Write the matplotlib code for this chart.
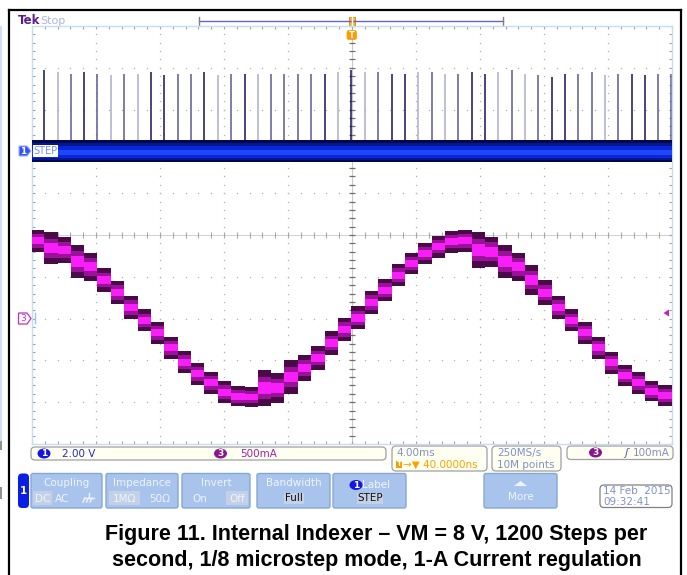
import numpy as np
import matplotlib
matplotlib.use("Agg")
import matplotlib.pyplot as plt
from matplotlib.patches import FancyBboxPatch, Rectangle, Ellipse, Polygon

# CH1 "STEP" input, 2 V/div : rising edge times (ms, trigger = 0) and pulse heights (V)
pulse_ms = [-19.25, -18.39, -17.56, -16.73, -15.92, -15.06, -14.23, -13.39,
            -12.54, -11.73, -10.89, -10.06, -9.23, -8.38, -7.54, -6.71,
            -5.89, -5.06, -4.23, -3.38, -2.54, -1.71, -0.89, -0.04,
            0.81, 1.64, 2.48, 3.31, 4.14, 4.98, 5.79, 6.63,
            7.48, 8.31, 9.14, 9.98, 10.81, 11.64, 12.48, 13.31,
            14.14, 14.98, 15.81, 16.64, 17.48, 18.31, 19.14, 19.94]
pulse_v = [3.88, 3.80, 3.72, 3.80, 3.72, 3.64, 3.72, 3.72, 3.80, 3.64, 3.72, 3.72,
           3.80, 3.64, 3.72, 3.68, 3.72, 3.72, 3.72, 3.72, 3.72, 3.72, 3.80, 3.88,
           3.80, 3.80, 3.72, 3.72, 3.80, 3.80, 3.72, 3.72, 3.80, 3.68, 3.80, 3.88,
           3.72, 3.64, 3.56, 3.68, 3.72, 3.80, 3.64, 3.72, 3.68, 3.64, 3.72, 3.72]
step_noise_v = (-0.51, 0.56)

# CH3 winding current, 500 mA/div : level held between step pulses (A) and ripple half width (A)
current_a = [0.93, 0.84, 0.82, 0.68, 0.62, 0.46, 0.31, 0.13, -0.02, -0.17, -0.35, -0.52,
             -0.66, -0.77, -0.88, -0.93, -0.94, -0.83, -0.83, -0.70, -0.59, -0.47, -0.29, -0.13,
             0.01, 0.19, 0.34, 0.52, 0.66, 0.78, 0.86, 0.92, 0.93, 0.82, 0.80, 0.68,
             0.62, 0.46, 0.31, 0.13, -0.02, -0.17, -0.35, -0.53, -0.68, -0.77, -0.87, -0.92]
ripple_a = [0.13, 0.19, 0.16, 0.20, 0.17, 0.14, 0.14, 0.14, 0.13, 0.13, 0.13, 0.13,
            0.13, 0.13, 0.13, 0.12, 0.12, 0.22, 0.18, 0.20, 0.16, 0.14, 0.14, 0.14,
            0.14, 0.14, 0.13, 0.13, 0.13, 0.13, 0.13, 0.13, 0.13, 0.22, 0.18, 0.20,
            0.17, 0.18, 0.15, 0.14, 0.13, 0.13, 0.13, 0.13, 0.13, 0.13, 0.12, 0.12]

ch1_volts_div = 2.0
ch3_amps_div = 0.5
ch1_pos = 2.0
ch3_pos = -2.0

W, H = 687, 575
fig = plt.figure(figsize=(W / 100, H / 100), dpi=100)
bg = fig.add_axes([0, 0, 1, 1])
bg.set_xlim(0, W)
bg.set_ylim(H, 0)
bg.axis('off')

# scope graticule, px 32..672 x 26..444
gx0, gx1, gy0, gy1 = 32, 672, 26, 444
ax = fig.add_axes([gx0 / W, 1 - gy1 / H, (gx1 - gx0) / W, (gy1 - gy0) / H])
ax.set_xlim(-20, 20)
ax.set_ylim(-5, 5)
ax.set_xticks([])
ax.set_yticks([])
for s in ax.spines.values():
    s.set_color('#c4dcf4')
    s.set_linewidth(1.0)

# overlay for markers drawn over the graticule
ov = fig.add_axes([0, 0, 1, 1])
ov.set_xlim(0, W)
ov.set_ylim(H, 0)
ov.axis('off')
ov.patch.set_alpha(0)

# grid dots
gcol = '#b0b0b0'
for xv in np.arange(-16, 17, 4):
    if xv == 0:
        continue
    yy = np.arange(-5, 5.01, 0.2)
    ax.plot(np.full_like(yy, xv), yy, ls='none', marker='s', ms=0.9, mew=0, color=gcol, zorder=1)
for yv in range(-4, 5):
    if yv == 0:
        continue
    xx = np.arange(-20, 20.01, 0.8)
    ax.plot(xx, np.full_like(xx, yv), ls='none', marker='s', ms=0.9, mew=0, color=gcol, zorder=1)
# center cross with ticks
xx = np.arange(-20, 20.01, 0.8)
yy = np.arange(-5, 5.01, 0.2)
ax.axhline(0, color='#d4d4d4', lw=0.8, zorder=1)
ax.plot(xx, np.zeros_like(xx), ls='none', marker='|', ms=4, mew=0.8, color='#a8a8a8', zorder=1)
ax.axvline(0, color='#c8c8c8', lw=0.8, zorder=1)
ax.plot(np.zeros_like(yy), yy, ls='none', marker='_', ms=5, mew=0.9, color='#707070', zorder=1)
# edge ticks
ax.plot(xx, np.full_like(xx, 5), ls='none', marker='|', ms=5, mew=0.8, color='#a0a0a0', zorder=1)
ax.plot(xx, np.full_like(xx, -5), ls='none', marker='|', ms=5, mew=0.8, color='#a0a0a0', zorder=1)
ax.plot(np.full_like(yy, -20), yy, ls='none', marker='_', ms=5, mew=0.8, color='#a0a0a0', zorder=1)
ax.plot(np.full_like(yy, 20), yy, ls='none', marker='_', ms=5, mew=0.8, color='#a0a0a0', zorder=1)

# CH1 noise band
lo, hi = step_noise_v
ax.fill_between([-20, 20], ch1_pos + lo / ch1_volts_div, ch1_pos + hi / ch1_volts_div,
                color='#000a4a', lw=0, zorder=3)
ax.fill_between([-20, 20], ch1_pos + 0.8 * lo / ch1_volts_div, ch1_pos + 0.7 * hi / ch1_volts_div,
                color='#061496', lw=0, zorder=3)
ax.fill_between([-20, 20], ch1_pos + 0.6 * lo / ch1_volts_div, ch1_pos + 0.45 * hi / ch1_volts_div,
                color='#0a28d2', lw=0, zorder=3)
ax.fill_between([-20, 20], ch1_pos + 0.35 * lo / ch1_volts_div, ch1_pos + 0.15 * hi / ch1_volts_div,
                color='#1e46ff', lw=0, zorder=3)
# step pulses
shade = "dlmdmlmlddmmdlmdlmmmmdld" + "lmddlmlmddlmlmddmmlmddmm"
shade_col = {'d': '#14145a', 'm': '#5a5a96', 'l': '#aaaecc'}
for t, v, s in zip(pulse_ms, pulse_v, shade):
    ax.vlines(t, ch1_pos + hi / ch1_volts_div, ch1_pos + v / ch1_volts_div,
              color=shade_col[s], lw=1.1, zorder=2)

# CH3 current staircase
t_start = [-20] + pulse_ms[:-1]
t_end = pulse_ms[:-1] + [20]
for t0, t1, i, r in zip(t_start, t_end, current_a, ripple_a):
    y = ch3_pos + i / ch3_amps_div
    rd = r / ch3_amps_div
    ax.fill_between([t0, t1], y - rd, y + rd, color='#4a0a48', lw=0, zorder=4)
    ax.fill_between([t0, t1], y - 0.62 * rd, y + 0.62 * rd, color='#9a129a', lw=0, zorder=4)
    ax.fill_between([t0, t1], y - 0.32 * rd, y + 0.32 * rd, color='#f81ef8', lw=0, zorder=4)

# ---------- screen decorations ----------
bg.plot([9, 681], [9.5, 9.5], color='black', lw=1.6)
bg.plot([9, 9], [9.5, 575], color='black', lw=1.6)
bg.plot([681, 681], [9.5, 575], color='black', lw=1.6)
bg.plot([1, 1], [27, 440], color='#cfe0f4', lw=1.5)
bg.add_patch(Rectangle((0, 441), 2, 9, color='#909090', lw=0))
bg.add_patch(Rectangle((0, 487), 2, 12, color='#909090', lw=0))

bg.text(18, 20.5, 'Tek', color='#5a1e8c', fontsize=8.5, fontweight='bold', va='center')
bg.text(40, 20.5, 'Stop', color='#a8b8e0', fontsize=8, va='center')

# record bar + trigger position
bg.plot([199, 503], [21, 21], color='#6464d2', lw=1)
bg.plot([199, 199], [17, 25], color='#808080', lw=1)
bg.plot([503, 503], [17, 25], color='#808080', lw=1)
bg.add_patch(Rectangle((348.5, 16.5), 6.5, 10, fc='#ffb030', ec='#e08000', lw=0.6))
bg.plot([351.7, 351.7], [17, 26], color='white', lw=1)
ov.add_patch(FancyBboxPatch((347.5, 31), 8.5, 8, boxstyle='round,pad=0.5,rounding_size=2',
                            fc='#ff9a00', ec='#ff9a00', lw=0.5))
ov.text(351.8, 35.3, 'T', color='white', fontsize=6, fontweight='bold', ha='center', va='center')

# channel markers
ov.add_patch(Polygon([[19, 146], [27, 146], [31, 151], [27, 156], [19, 156]], closed=True,
                     fc='#3250ff', ec='#a0b0ff', lw=0.8))
ov.text(23.5, 151.3, '1', color='white', fontsize=6.5, fontweight='bold', ha='center', va='center')
ov.add_patch(Rectangle((32.5, 145), 25, 12, fc='white', ec='none'))
ov.text(33.5, 151.3, 'STEP', color='#7090ff', fontsize=7, va='center')

ov.add_patch(Polygon([[18.5, 313], [27, 313], [31, 318.5], [27, 324], [18.5, 324]], closed=True,
                     fc='white', ec='#c030c0', lw=0.9))
ov.text(23.5, 318.8, '3', color='#c030c0', fontsize=6.5, ha='center', va='center')
ov.plot([34.5, 34.5], [313, 323], color='#a0c0f0', lw=1)
ov.add_patch(Polygon([[663.5, 313], [669, 309.5], [669, 316.5]], closed=True, fc='#c020c0', ec='none'))

# status readouts
tcol = '#8090c8'


def box(x0, y0, x1, y1, fc='#fffff2', ec='#a0a0a0'):
    bg.add_patch(FancyBboxPatch((x0, y0), x1 - x0, y1 - y0,
                                boxstyle='round,pad=0,rounding_size=4', fc=fc, ec=ec, lw=0.9))


def badge(x, y, n, fc):
    bg.add_patch(Ellipse((x, y), 13, 10, fc=fc, ec='none'))
    bg.text(x, y + 0.3, n, color='white', fontsize=6.5, fontweight='bold', ha='center', va='center')


box(31, 447, 386, 460)
badge(44, 453.5, '1', '#1414e6')
bg.text(62, 453.7, '2.00 V', color='#2028c8', fontsize=7.5, va='center')
badge(220.5, 453.5, '3', '#8c148c')
bg.text(240, 453.7, '500mA', color='#a020a8', fontsize=7.5, va='center')

box(392, 446, 487, 471)
bg.text(396, 453, '4.00ms', color=tcol, fontsize=7.5, va='center')
bg.add_patch(Rectangle((396, 461), 6, 6.5, fc='#ff9a00', ec='none'))
bg.text(399, 464.5, 'T', color='white', fontsize=5, fontweight='bold', ha='center', va='center')
bg.text(403, 464.5, '\u2192\u25bc 40.0000ns', color='#ffa000', fontsize=7.5, va='center')

box(492, 446, 561, 471)
bg.text(497, 453, '250MS/s', color=tcol, fontsize=7.5, va='center')
bg.text(497, 464.5, '10M points', color=tcol, fontsize=7.5, va='center')

box(567, 446, 673, 459.5)
badge(595.5, 452.5, '3', '#8c148c')
bg.text(624, 453, '\u0283', color='#5060a0', fontsize=8, fontstyle='italic', va='center')
bg.text(633, 452.8, '100mA', color=tcol, fontsize=7.5, va='center')

# soft-key buttons
bg.add_patch(FancyBboxPatch((18, 473.5), 11, 34.5, boxstyle='round,pad=0,rounding_size=4',
                            fc='#0a1ee6', ec='none'))
bg.text(23.5, 491, '1', color='white', fontsize=7.5, fontweight='bold', ha='center', va='center')

bfc = '#a8c4ec'
bec = '#86a6d6'
wt = '#eef4ff'


def button(x0, x1, title, tx=None):
    bg.add_patch(FancyBboxPatch((x0, 473.5), x1 - x0, 34.5, boxstyle='round,pad=0,rounding_size=2',
                                fc=bfc, ec=bec, lw=1))
    if title:
        bg.text((x0 + x1) / 2 if tx is None else tx, 483.5, title, color=wt, fontsize=7.5,
                ha='center', va='center')


def hl(x0, x1):
    bg.add_patch(Rectangle((x0, 491), x1 - x0, 14, fc='#c4d0e6', ec='none'))


button(31, 102, 'Coupling')
hl(33, 52)
bg.text(42.5, 498.5, 'DC', color=wt, fontsize=7.5, ha='center', va='center')
bg.text(62, 498.5, 'AC', color=wt, fontsize=7.5, ha='center', va='center')
bg.plot([89, 89], [493, 498], color=wt, lw=1)
bg.plot([84, 94], [498, 498], color=wt, lw=1)
for gx in [85, 88.5, 92]:
    bg.plot([gx, gx - 2], [498, 502], color=wt, lw=1)

button(106, 178, 'Impedance')
hl(109, 140)
bg.text(124.5, 498.5, '1M\u03a9', color=wt, fontsize=7.5, ha='center', va='center')
bg.text(160, 498.5, '50\u03a9', color=wt, fontsize=7.5, ha='center', va='center')

button(182, 250, 'Invert')
bg.text(200, 498.5, 'On', color=wt, fontsize=7.5, ha='center', va='center')
hl(226, 248)
bg.text(237, 498.5, 'Off', color=wt, fontsize=7.5, ha='center', va='center')

button(257, 330, 'Bandwidth')
bg.add_patch(Rectangle((284, 492.5), 20, 11, fc='#c4d0e6', ec='none'))
bg.text(294, 498, 'Full', color='#101010', fontsize=7.5, ha='center', va='center')

button(333, 406, None)
badge(356, 485, '1', '#1414e6')
bg.text(376, 484.5, 'Label', color=wt, fontsize=7.5, ha='center', va='center')
bg.add_patch(Rectangle((357, 492.5), 26, 11, fc='#c4d0e6', ec='none'))
bg.text(370, 498, 'STEP', color='#101010', fontsize=7.5, ha='center', va='center')

button(484, 557, None)
bg.add_patch(Polygon([[514, 486], [520.5, 481], [527, 486]], closed=True, fc=wt, ec='none'))
bg.text(520.5, 497, 'More', color=wt, fontsize=7.5, ha='center', va='center')

box(600, 485, 672, 507.5, fc='white', ec='#808080')
bg.text(603, 491.3, '14 Feb  2015', color=tcol, fontsize=7.5, va='center')
bg.text(603, 502, '09:32:41', color=tcol, fontsize=7.5, va='center')

# caption
bg.text(376, 540, 'Figure 11. Internal Indexer \u2013 VM = 8 V, 1200 Steps per', ha='center',
        va='baseline', fontsize=15.5, fontweight='bold', family=['Liberation Sans', 'DejaVu Sans'])
bg.text(377, 566, 'second, 1/8 microstep mode, 1-A Current regulation', ha='center',
        va='baseline', fontsize=15.5, fontweight='bold', family=['Liberation Sans', 'DejaVu Sans'])

fig.savefig('out.png', dpi=100)
